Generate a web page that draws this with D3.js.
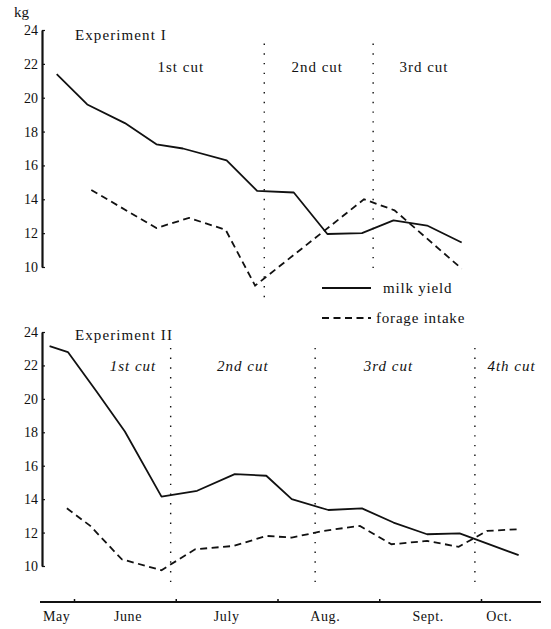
<!DOCTYPE html>
<html><head><meta charset="utf-8">
<script src="https://cdn.jsdelivr.net/npm/d3@7"></script>
<style>
body{margin:0;background:#fff}
svg{display:block}
text{font-family:"Liberation Serif","DejaVu Serif",serif;fill:#111}
</style>
</head><body>
<svg id="c" width="551" height="629"></svg>
<script>
// ---- data (x in month units: 6 = 1 June, 7 = 1 July, ...) ----
const yTicks = [10,12,14,16,18,20,22,24];
const monthTicks = [6,7,8,9,10];
const monthLabels = ["May","June","July","Aug.","Sept.","Oct."];
const monthLabelPos = [5.83,6.53,7.50,8.47,9.48,10.18];

const exp1MilkX = [5.83,6.13,6.50,6.81,7.07,7.50,7.80,8.16,8.49,8.83,9.14,9.47,9.81];
const exp1Milk  = [21.4,19.6,18.5,17.25,17.0,16.3,14.5,14.4,11.95,12.0,12.75,12.45,11.45];
const exp1ForageX = [6.17,6.81,7.13,7.49,7.78,8.85,9.15,9.81];
const exp1Forage  = [14.55,12.3,12.9,12.2,8.9,14.0,13.35,9.9];
const exp1Cuts = [7.87,8.94];
const exp1CutLabels = ["1st cut","2nd cut","3rd cut"];
const exp1CutLabelPos = [7.05,8.39,9.44];

const exp2MilkX = [5.76,5.94,6.22,6.50,6.86,7.21,7.58,7.89,8.14,8.50,8.83,9.14,9.47,9.79,10.37];
const exp2Milk  = [23.15,22.8,20.45,18.05,14.15,14.5,15.5,15.4,14.0,13.35,13.45,12.6,11.9,11.95,10.65];
const exp2ForageX = [5.93,6.16,6.47,6.86,7.19,7.57,7.89,8.14,8.45,8.81,9.12,9.47,9.78,10.06,10.37];
const exp2Forage  = [13.45,12.4,10.4,9.75,11.0,11.2,11.8,11.7,12.1,12.4,11.3,11.5,11.15,12.1,12.2];
const exp2Cuts = [6.95,8.37,9.94];
const exp2CutLabels = ["1st cut","2nd cut","3rd cut","4th cut"];
const exp2CutLabelPos = [6.58,7.66,9.09,10.30];

const seriesNames = ["milk yield","forage intake"];

// ---- scales ----
const svg = d3.select("#c");
const x = d3.scaleLinear().domain([6,10]).range([74,481]);
const yTop = d3.scaleLinear().domain([10,24]).range([267,30]);
const yBot = d3.scaleLinear().domain([10,24]).range([566,332]);
const ink = "#111";

function panel(y, milkX, milk, forX, forg, cuts, cutTop, cutBots, title, titleY, cutLabels, cutLabelPos, cutY, italic){
  const g = svg.append("g");
  // y axis
  const ax = g.append("g").attr("transform","translate(42,0)")
    .call(d3.axisLeft(y).tickValues(yTicks).tickSizeInner(-3).tickSizeOuter(0).tickPadding(5));
  ax.select(".domain").attr("stroke",ink).attr("stroke-width",2.2);
  ax.selectAll(".tick line").attr("stroke",ink).attr("stroke-width",1.2);
  ax.selectAll(".tick text").attr("font-size",14).attr("fill",ink)
    .style("font-family","'Liberation Serif',serif").attr("x",-4);
  // cut lines
  cuts.forEach((c,i)=>{
    g.append("line").attr("x1",x(c)).attr("x2",x(c))
      .attr("y1",y(cutTop)).attr("y2",y(cutBots[i]))
      .attr("stroke",ink).attr("stroke-width",1.4)
      .attr("stroke-dasharray","1.4,8.3");
  });
  // lines
  const line = (xs)=>d3.line().x((d,i)=>x(xs[i])).y(d=>y(d));
  g.append("path").datum(milk).attr("d",line(milkX))
    .attr("fill","none").attr("stroke",ink).attr("stroke-width",1.8).attr("stroke-linejoin","round");
  g.append("path").datum(forg).attr("d",line(forX))
    .attr("fill","none").attr("stroke",ink).attr("stroke-width",1.8)
    .attr("stroke-dasharray","7,4.5");
  // title
  g.append("text").attr("x",75).attr("y",titleY).attr("font-size",15)
    .attr("letter-spacing",1.1).text(title);
  cutLabels.forEach((t,i)=>{
    g.append("text").attr("x",x(cutLabelPos[i])).attr("y",cutY)
      .attr("text-anchor","middle").attr("font-size",15).attr("letter-spacing",1)
      .attr("font-style",italic?"italic":"normal").text(t);
  });
}

panel(yTop, exp1MilkX, exp1Milk, exp1ForageX, exp1Forage, exp1Cuts, 23.2, [8.05,9.9],
      "Experiment I", 40, exp1CutLabels, exp1CutLabelPos, 71.5, false);
panel(yBot, exp2MilkX, exp2Milk, exp2ForageX, exp2Forage, exp2Cuts, 23.05, [8.9,8.9,8.8],
      "Experiment II", 339.5, exp2CutLabels, exp2CutLabelPos, 371, true);

// kg unit
svg.append("text").attr("x",14).attr("y",17).attr("font-size",15).text("kg");

// x axis (bottom)
const xa = svg.append("g").attr("transform","translate(0,602)")
  .call(d3.axisBottom(x).tickValues(monthTicks).tickSizeInner(-3).tickSizeOuter(0).tickFormat(""));
xa.select(".domain").remove();
xa.append("line").attr("x1",40).attr("x2",541).attr("stroke",ink).attr("stroke-width",2);
xa.selectAll(".tick line").attr("stroke",ink).attr("stroke-width",1.5);
monthLabels.forEach((m,i)=>{
  svg.append("text").attr("x",x(monthLabelPos[i])).attr("y",621)
    .attr("text-anchor","middle").attr("font-size",14).attr("letter-spacing",0.6).text(m);
});

// legend
const leg = svg.append("g");
const legY = [288,318];
const legDash = [null,"7,4.5"];
seriesNames.forEach((s,i)=>{
  leg.append("line").attr("x1",322).attr("x2",371).attr("y1",legY[i]).attr("y2",legY[i])
    .attr("stroke",ink).attr("stroke-width",1.8).attr("stroke-dasharray",legDash[i]);
  leg.append("text").attr("x",i===0?383:376).attr("y",legY[i]+5).attr("font-size",15)
    .attr("letter-spacing",0.8).text(s);
});
</script>
</body></html>
